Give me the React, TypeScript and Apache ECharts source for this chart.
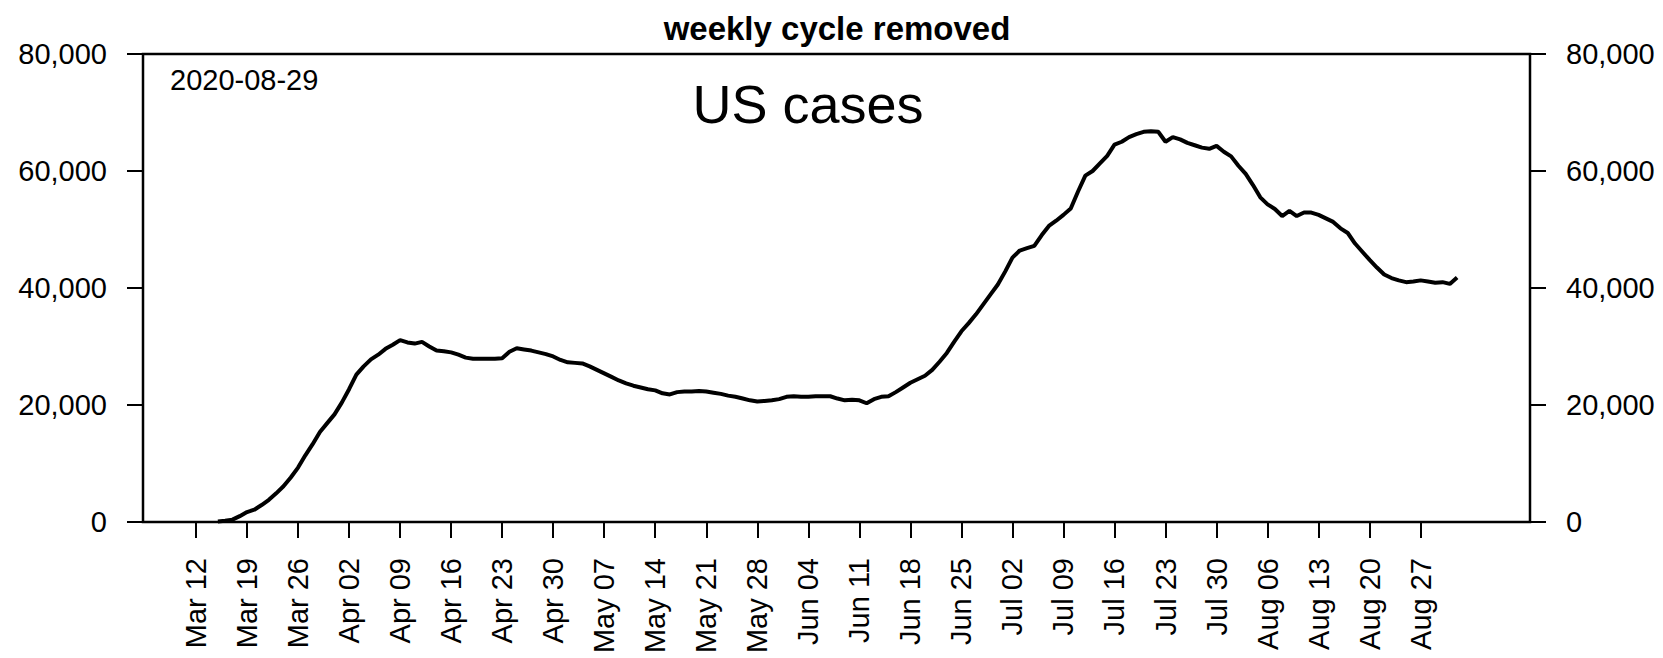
import React, { useEffect, useRef } from "react";
import * as echarts from "echarts";

const TITLE = "weekly cycle removed";
const SERIES_NAME = "US cases";
const DATE_STAMP = "2020-08-29";

// First date of the daily series
const FIRST_DATE = "Mar 15";

// Daily US cases (weekly cycle removed)
const CASES = [
  100, 200, 400, 1000, 1700, 2100, 2900, 3800, 4900, 6100,
  7600, 9300, 11400, 13300, 15400, 16900, 18400, 20400, 22700, 25200,
  26600, 27800, 28600, 29600, 30300, 31100, 30700, 30500, 30800, 30000,
  29300, 29200, 29000, 28600, 28100, 27900, 27900, 27900, 27900, 28000,
  29100, 29700, 29500, 29300, 29000, 28700, 28300, 27700, 27300, 27200,
  27100, 26600, 26000, 25400, 24800, 24200, 23700, 23300, 23000, 22700,
  22500, 22000, 21800, 22200, 22300, 22300, 22400, 22300, 22100, 21900,
  21600, 21400, 21100, 20800, 20600, 20700, 20800, 21000, 21400, 21500,
  21400, 21400, 21500, 21500, 21500, 21100, 20800, 20900, 20800, 20300,
  21000, 21400, 21500, 22200, 23000, 23800, 24400, 25000, 26000, 27400,
  28900, 30800, 32600, 34000, 35500, 37200, 38900, 40600, 42800, 45200,
  46400, 46800, 47200, 49000, 50600, 51500, 52500, 53600, 56500, 59200,
  60000, 61300, 62600, 64500, 65000, 65800, 66300, 66700, 66800, 66700,
  65000, 65800, 65400, 64800, 64400, 64000, 63800, 64300, 63300, 62500,
  60900, 59500, 57600, 55500, 54300, 53500, 52300, 53200, 52300, 52900,
  52900, 52500, 51900, 51300, 50200, 49400, 47600, 46200, 44800, 43500,
  42300, 41700, 41300, 41000, 41100, 41300, 41100, 40900, 41000, 40700,
  41800,
];

const TICK_LABELS = [
  "Mar 12", "Mar 19", "Mar 26", "Apr 02", "Apr 09", "Apr 16", "Apr 23", "Apr 30",
  "May 07", "May 14", "May 21", "May 28", "Jun 04", "Jun 11", "Jun 18", "Jun 25",
  "Jul 02", "Jul 09", "Jul 16", "Jul 23", "Jul 30", "Aug 06", "Aug 13", "Aug 20",
  "Aug 27",
];

const Y_MIN = 0;
const Y_MAX = 80000;
const Y_STEP = 20000;

// day index counted from Mar 1
const MONTH_START: Record<string, number> = {
  Mar: 0, Apr: 31, May: 61, Jun: 92, Jul: 122, Aug: 153, Sep: 184,
};
function dayOf(label: string): number {
  const [m, d] = label.split(" ");
  return MONTH_START[m] + parseInt(d, 10) - 1;
}

const FONT = "'Liberation Sans', Arial, Helvetica, sans-serif";

export default function App() {
  const ref = useRef<HTMLDivElement>(null);

  useEffect(() => {
    if (!ref.current) return;
    const chart = echarts.init(ref.current, undefined, { renderer: "svg" });

    const start = dayOf(FIRST_DATE);
    const data = CASES.map((v, i) => [start + i, v]);
    const tickDays = TICK_LABELS.map(dayOf);
    const labelByDay: Record<number, string> = {};
    TICK_LABELS.forEach((l, i) => (labelByDay[tickDays[i]] = l));

    const yFmt = (v: number) => v.toLocaleString("en-US");

    const yAxisBase = {
      type: "value" as const,
      min: Y_MIN,
      max: Y_MAX,
      interval: Y_STEP,
      splitLine: { show: false },
      axisLine: { show: false },
      axisTick: { show: true, length: 16, lineStyle: { color: "#000", width: 2 } },
      axisLabel: {
        margin: 36,
        fontSize: 29,
        color: "#000",
        fontFamily: FONT,
        formatter: yFmt,
      },
    };

    chart.setOption({
      animation: false,
      grid: {
        left: 143,
        right: 133,
        top: 54,
        bottom: 136,
        show: true,
        borderColor: "#000",
        borderWidth: 2.5,
        backgroundColor: "transparent",
      },
      xAxis: {
        type: "value",
        min: 3.73,
        max: 194,
        splitLine: { show: false },
        axisLine: { show: false },
        axisTick: {
          show: true,
          customValues: tickDays,
          length: 16,
          lineStyle: { color: "#000", width: 2 },
        },
        axisLabel: {
          customValues: tickDays,
          rotate: 90,
          margin: 36,
          fontSize: 29,
          color: "#000",
          fontFamily: FONT,
          formatter: (v: number) => labelByDay[Math.round(v)] ?? "",
        },
      },
      yAxis: [
        { ...yAxisBase, position: "left" },
        { ...yAxisBase, position: "right" },
      ],
      series: [
        {
          name: SERIES_NAME,
          type: "line",
          data,
          xAxisIndex: 0,
          yAxisIndex: 0,
          showSymbol: false,
          symbol: "none",
          lineStyle: { color: "#000", width: 4 },
          z: 5,
        },
      ],
      graphic: [
        {
          type: "text",
          x: 837,
          y: 28,
          style: {
            text: TITLE,
            fontSize: 33,
            fontWeight: "bold",
            fontFamily: FONT,
            fill: "#000",
            align: "center",
            verticalAlign: "middle",
            textAlign: "center",
            textVerticalAlign: "middle",
          },
        },
        {
          type: "text",
          x: 808,
          y: 104,
          style: {
            text: SERIES_NAME,
            fontSize: 54,
            fontFamily: FONT,
            fill: "#000",
            align: "center",
            verticalAlign: "middle",
            textAlign: "center",
            textVerticalAlign: "middle",
          },
        },
        {
          type: "text",
          x: 170,
          y: 80,
          style: {
            text: DATE_STAMP,
            fontSize: 29,
            fontFamily: FONT,
            fill: "#000",
            align: "left",
            verticalAlign: "middle",
            textAlign: "left",
            textVerticalAlign: "middle",
          },
        },
      ],
    });

    return () => {
      chart.dispose();
    };
  }, []);

  return (
    <div
      ref={ref}
      style={{
        position: "absolute",
        left: 0,
        top: 0,
        width: 1663,
        height: 658,
        background: "#fff",
      }}
    />
  );
}
